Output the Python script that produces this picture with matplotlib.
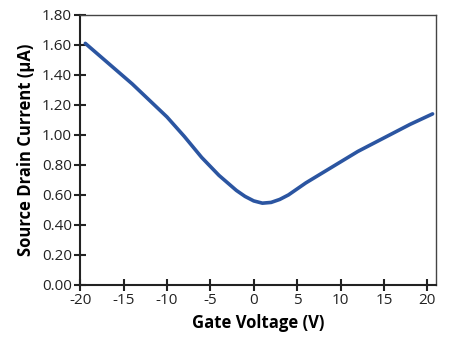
import numpy as np
import matplotlib
matplotlib.use('Agg')
import matplotlib.pyplot as plt

# gate voltage (V) and source-drain current (uA)
gate_v = [-19.4, -18, -16, -14, -12, -10, -8, -6, -4, -2, -1, 0, 1, 2, 3, 4,
          6, 8, 10, 12, 14, 16, 18, 20.6]
current = [1.61, 1.54, 1.44, 1.34, 1.23, 1.12, 0.99, 0.85, 0.73, 0.63, 0.59,
           0.56, 0.545, 0.55, 0.57, 0.60, 0.68, 0.75, 0.82, 0.89, 0.95, 1.01,
           1.07, 1.14]

x_ticks = [-20, -15, -10, -5, 0, 5, 10, 15, 20]
y_ticks = [0.0, 0.2, 0.4, 0.6, 0.8, 1.0, 1.2, 1.4, 1.6, 1.8]

plt.rcParams['font.family'] = ['Open Sans', 'DejaVu Sans']
plt.rcParams['axes.unicode_minus'] = False

fig = plt.figure(figsize=(4.5, 3.38), dpi=100)
ax = fig.add_axes([0.178, 0.157, 0.791, 0.799])

ax.plot(gate_v, current, color='#2b55a1', lw=2.6, solid_capstyle='round',
        solid_joinstyle='round')

ax.set_xlim(-20, 21)
ax.set_ylim(0, 1.8)
ax.set_xticks(x_ticks)
ax.set_yticks(y_ticks)
ax.set_yticklabels(['%.2f' % t for t in y_ticks])
ax.tick_params(direction='inout', length=8, width=1.5, labelsize=11,
               colors='#222222', pad=2)

for s in ['left', 'bottom']:
    ax.spines[s].set_linewidth(1.5)
    ax.spines[s].set_color('#222222')
for s in ['top', 'right']:
    ax.spines[s].set_linewidth(1.0)
    ax.spines[s].set_color('#444444')

ax.set_xlabel('Gate Voltage (V)', fontsize=12, fontweight='bold', labelpad=4)
ax.set_ylabel('Source Drain Current (\u00b5A)', fontsize=12, fontweight='bold',
              labelpad=5)

fig.savefig('out.png', dpi=100)
